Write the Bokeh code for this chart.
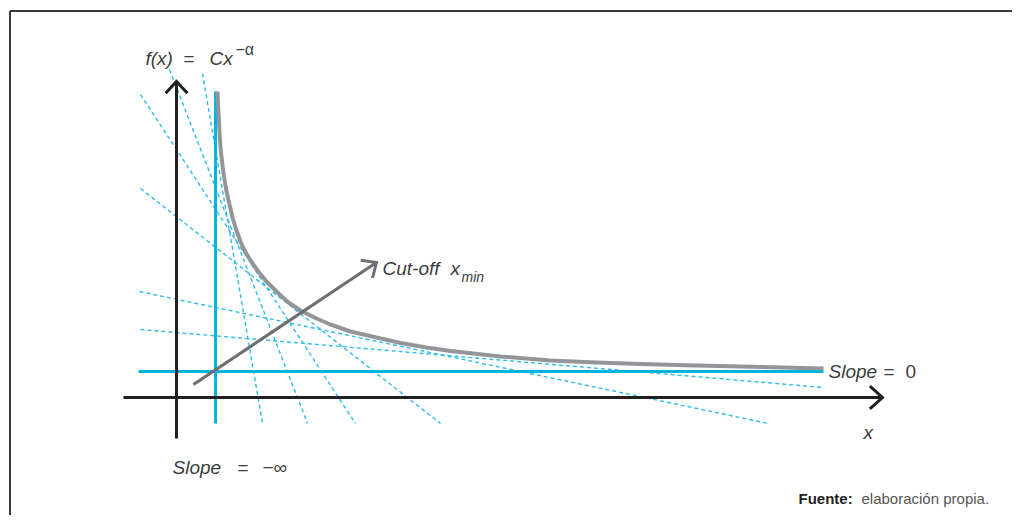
import math
from bokeh.plotting import figure
from bokeh.models import Range1d, Label
from bokeh.embed import file_html
from bokeh.resources import INLINE

# ---- data (diagram units; origin at the axes crossing) ----
curve_x = [41, 42, 43, 44, 46, 48, 50, 53, 56, 60, 64, 68, 74, 81, 90, 101, 112, 124, 140,
           154, 174, 200, 224, 250, 274, 324, 374, 420, 464, 520, 564, 647]
curve_y = [306, 285, 265, 250, 232, 218, 206, 193, 180, 167, 156, 147, 137, 127, 116, 105, 95, 87, 79,
           73, 66, 60, 54.5, 50, 46.5, 41, 37, 35, 33.5, 32, 31, 29]

# tangent (dashed) lines: start and end points
tan_x0 = [26, -7, -36, -36, -37, -36]
tan_y0 = [324, 328, 303, 209, 106, 68]
tan_x1 = [86, 131, 179, 264, 592, 647]
tan_y1 = [-26, -26, -26, -26, -26, 10]

x_min = 39            # cut-off (slope = -inf)
slope0_level = 26     # horizontal asymptote (slope = 0)
xmin_span = [-26, 306]
slope0_span = [-38, 647]

x_axis_span = [-53, 706]
y_axis_span = [-41, 316]

cut_arrow_start = (17, 13)
cut_arrow_end = (200, 135)

# ---- colours ----
CYAN = "#00b4e0"
DASH = "#2bbde8"
GRAY = "#939598"
DARKGRAY = "#6d6e71"
BLACK = "#231f20"
TEXT = "#3c3c3c"

X0, X1 = -168, 836
Y0, Y1 = -118, 389

p = figure(width=1012, height=515, output_backend="svg", toolbar_location=None,
           x_range=Range1d(X0, X1), y_range=Range1d(Y0, Y1),
           x_axis_location=None, y_axis_location=None,
           min_border_left=8, min_border_top=8, min_border_right=0, min_border_bottom=0)
p.grid.visible = False
p.outline_line_color = None
p.background_fill_color = "white"
p.border_fill_color = "white"

# framing box (top and left edges visible)
p.line(x=[X0 + 1.5, X0 + 1.5], y=[Y0, Y1 - 2.5], line_color="#3a3a3a", line_width=2)
p.line(x=[X0 + 1.5, X1], y=[Y1 - 2.5, Y1 - 2.5], line_color="#3a3a3a", line_width=2)

# dashed tangent lines
p.segment(x0=tan_x0, y0=tan_y0, x1=tan_x1, y1=tan_y1, line_color=DASH,
          line_width=1.4, line_dash="4 3")

# cyan limits
p.line(x=[x_min, x_min], y=xmin_span, line_color=CYAN, line_width=3)
p.line(x=slope0_span, y=[slope0_level, slope0_level], line_color=CYAN, line_width=3)

# power-law curve
p.line(x=curve_x, y=curve_y, line_color=GRAY, line_width=4, line_join="round")


def head(start, tip, length, half_angle_deg):
    ang = math.atan2(tip[1] - start[1], tip[0] - start[0])
    a = math.radians(half_angle_deg)
    xs, ys = [], []
    for s in (1, -1):
        xs.append(tip[0] - length * math.cos(ang + s * a))
        ys.append(tip[1] - length * math.sin(ang + s * a))
    return [xs[0], tip[0], xs[1]], [ys[0], tip[1], ys[1]]


# axes
p.line(x=x_axis_span, y=[0, 0], line_color=BLACK, line_width=3)
p.line(x=[0, 0], y=y_axis_span, line_color=BLACK, line_width=3)
hx, hy = head((x_axis_span[0], 0), (x_axis_span[1], 0), 17, 42)
p.line(x=hx, y=hy, line_color=BLACK, line_width=3, line_join="miter")
hx, hy = head((0, y_axis_span[0]), (0, y_axis_span[1]), 16, 43)
p.line(x=hx, y=hy, line_color=BLACK, line_width=3, line_join="miter")

# cut-off arrow
p.line(x=[cut_arrow_start[0], cut_arrow_end[0]], y=[cut_arrow_start[1], cut_arrow_end[1]],
       line_color=DARKGRAY, line_width=3)
hx, hy = head(cut_arrow_start, cut_arrow_end, 16, 42)
p.line(x=hx, y=hy, line_color=DARKGRAY, line_width=3, line_join="miter")

FONT = "Liberation Sans"


def label(x, y, text, size=19, style="normal", color=TEXT, align="left"):
    p.add_layout(Label(x=x, y=y, text=text, text_font=FONT, text_font_size=f"{size}px",
                       text_font_style=style, text_color=color, text_align=align,
                       text_baseline="alphabetic"))


# f(x) = C x^-alpha
label(-31, 339, "f(x)", style="italic")
label(7, 339, "=")
label(33, 339, "Cx", style="italic")
label(59, 348, "\u2212\u03b1", size=16)

# cut-off
label(206, 129, "Cut-off", style="italic")
label(274, 129, "x", style="italic")
label(285, 121, "min", size=14, style="italic")

# slope = 0
label(652, 26, "Slope", style="italic")
label(707, 26, "=")
label(729, 26, "0")

# slope = -inf
label(-4, -70, "Slope", style="italic")
label(61, -70, "=")
label(86, -70, "\u2212\u221e")

# x axis name
label(687, -35, "x", style="italic")

# source
label(622, -101, "Fuente:", size=15, style="bold", color=BLACK)
label(685, -101, "elaboración propia.", size=15, color="#555555")

open("out.html", "w").write(file_html(p, INLINE))
